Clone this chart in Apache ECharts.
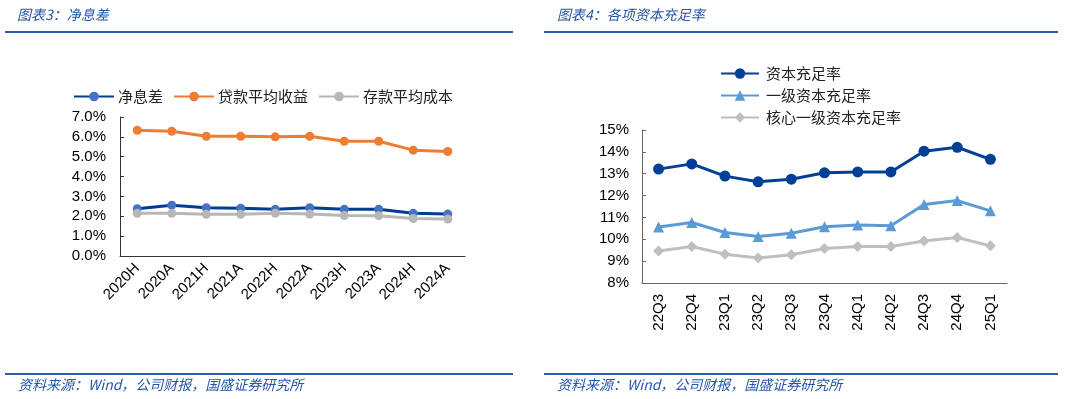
<!DOCTYPE html>
<html>
<head>
<meta charset="utf-8">
<script src="https://cdn.jsdelivr.net/npm/echarts@6/dist/echarts.min.js"></script>
<style>
  html, body { margin: 0; padding: 0; background: #fff; }
  #main { width: 1065px; height: 399px; }
</style>
</head>
<body>
<div id="main"></div>
<script>
// 图表3：净息差
var periods = ['2020H', '2020A', '2021H', '2021A', '2022H', '2022A', '2023H', '2023A', '2024H', '2024A'];
var nim = [2.38, 2.56, 2.43, 2.40, 2.35, 2.43, 2.35, 2.35, 2.15, 2.11];
var loanYield = [6.33, 6.28, 6.03, 6.03, 6.00, 6.03, 5.78, 5.78, 5.33, 5.26];
var depositCost = [2.15, 2.15, 2.10, 2.10, 2.15, 2.11, 2.04, 2.03, 1.89, 1.86];

// 图表4：各项资本充足率
var quarters = ['22Q3', '22Q4', '23Q1', '23Q2', '23Q3', '23Q4', '24Q1', '24Q2', '24Q3', '24Q4', '25Q1'];
var car = [13.21, 13.45, 12.89, 12.63, 12.75, 13.04, 13.08, 13.08, 14.03, 14.21, 13.66];
var tier1 = [10.56, 10.77, 10.31, 10.13, 10.28, 10.57, 10.65, 10.62, 11.59, 11.77, 11.30];
var cet1 = [9.46, 9.67, 9.32, 9.14, 9.29, 9.58, 9.67, 9.67, 9.92, 10.08, 9.70];

var numFont = 'Liberation Sans, Arial, sans-serif';
var cjkFont = 'Noto Sans CJK SC, sans-serif';
var ruleColor = '#2e5faf';
var titleColor = '#2456a6';

var chart = echarts.init(document.getElementById('main'));

function rule(x1, x2, y) {
  return {
    type: 'line',
    shape: { x1: x1, y1: y, x2: x2, y2: y },
    style: { stroke: ruleColor, lineWidth: 2 }
  };
}
function label(x, y, text) {
  return {
    type: 'text',
    x: x, y: y,
    style: {
      text: text, fill: titleColor, fontSize: 14, fontStyle: 'italic',
      fontFamily: cjkFont, verticalAlign: 'middle'
    }
  };
}

var option = {
  animation: false,
  backgroundColor: '#fff',
  graphic: [
    label(17, 15, '图表3：净息差'),
    label(557, 15, '图表4：各项资本充足率'),
    rule(5, 513, 32),
    rule(544, 1058, 32),
    rule(5, 513, 374),
    rule(544, 1058, 374),
    label(18, 385, '资料来源：Wind，公司财报，国盛证券研究所'),
    label(557, 385, '资料来源：Wind，公司财报，国盛证券研究所')
  ],
  legend: [
    {
      left: 73, top: 89, padding: 0,
      itemWidth: 40, itemHeight: 12, itemGap: 10,
      textStyle: { fontSize: 15, fontFamily: cjkFont, color: '#222', padding: [0, 0, 0, -1] },
      data: ['净息差', '贷款平均收益', '存款平均成本']
    },
    {
      left: 720, top: 66, orient: 'vertical', padding: 0,
      itemWidth: 38, itemHeight: 13, itemGap: 7,
      textStyle: { fontSize: 15, fontFamily: cjkFont, color: '#222', padding: [0, 0, 0, 2] },
      data: ['资本充足率', '一级资本充足率', '核心一级资本充足率']
    }
  ],
  grid: [
    { left: 120, right: 600, top: 117, bottom: 143 },
    { left: 642, right: 58, top: 130, bottom: 116 }
  ],
  xAxis: [
    {
      type: 'category', gridIndex: 0, data: periods,
      axisLine: { lineStyle: { color: '#333', width: 1 } },
      axisTick: { inside: true, length: 4, lineStyle: { color: '#333' } },
      axisLabel: { rotate: 45, fontSize: 15, fontFamily: numFont, color: '#000', margin: 10 }
    },
    {
      type: 'category', gridIndex: 1, data: quarters,
      axisLine: { lineStyle: { color: '#666', width: 1 } },
      axisTick: { inside: true, length: 4, lineStyle: { color: '#666' } },
      axisLabel: { rotate: 90, fontSize: 15, fontFamily: numFont, color: '#000', margin: 11 }
    }
  ],
  yAxis: [
    {
      type: 'value', gridIndex: 0, min: 0, max: 7, interval: 1,
      splitLine: { show: false },
      axisLine: { show: true, lineStyle: { color: '#333', width: 1 } },
      axisTick: { show: true, inside: true, length: 4, lineStyle: { color: '#333' } },
      axisLabel: {
        fontSize: 15, fontFamily: numFont, color: '#000', margin: 14,
        formatter: function (v) { return v.toFixed(1) + '%'; }
      }
    },
    {
      type: 'value', gridIndex: 1, min: 8, max: 15, interval: 1,
      splitLine: { show: false },
      axisLine: { show: true, lineStyle: { color: '#666', width: 1 } },
      axisTick: { show: true, inside: true, length: 4, lineStyle: { color: '#666' } },
      axisLabel: {
        fontSize: 15, fontFamily: numFont, color: '#000', margin: 13,
        formatter: function (v) { return v + '%'; }
      }
    }
  ],
  series: [
    {
      name: '净息差', type: 'line', xAxisIndex: 0, yAxisIndex: 0, data: nim,
      symbol: 'circle', symbolSize: 9,
      lineStyle: { color: '#003c8f', width: 3 },
      itemStyle: { color: '#4472c4' }
    },
    {
      name: '贷款平均收益', type: 'line', xAxisIndex: 0, yAxisIndex: 0, data: loanYield,
      symbol: 'circle', symbolSize: 9,
      lineStyle: { color: '#ed7d31', width: 3 },
      itemStyle: { color: '#ed7d31' }
    },
    {
      name: '存款平均成本', type: 'line', xAxisIndex: 0, yAxisIndex: 0, data: depositCost,
      symbol: 'circle', symbolSize: 9,
      lineStyle: { color: '#b7b7b7', width: 3 },
      itemStyle: { color: '#b7b7b7' }
    },
    {
      name: '资本充足率', type: 'line', xAxisIndex: 1, yAxisIndex: 1, data: car,
      symbol: 'circle', symbolSize: 11,
      lineStyle: { color: '#003f96', width: 3 },
      itemStyle: { color: '#003f96' }
    },
    {
      name: '一级资本充足率', type: 'line', xAxisIndex: 1, yAxisIndex: 1, data: tier1,
      symbol: 'triangle', symbolSize: 11,
      lineStyle: { color: '#5b9bd5', width: 3 },
      itemStyle: { color: '#5b9bd5' }
    },
    {
      name: '核心一级资本充足率', type: 'line', xAxisIndex: 1, yAxisIndex: 1, data: cet1,
      symbol: 'diamond', symbolSize: 11,
      lineStyle: { color: '#bfbfbf', width: 3 },
      itemStyle: { color: '#bfbfbf' }
    }
  ]
};

chart.setOption(option);
</script>
</body>
</html>
